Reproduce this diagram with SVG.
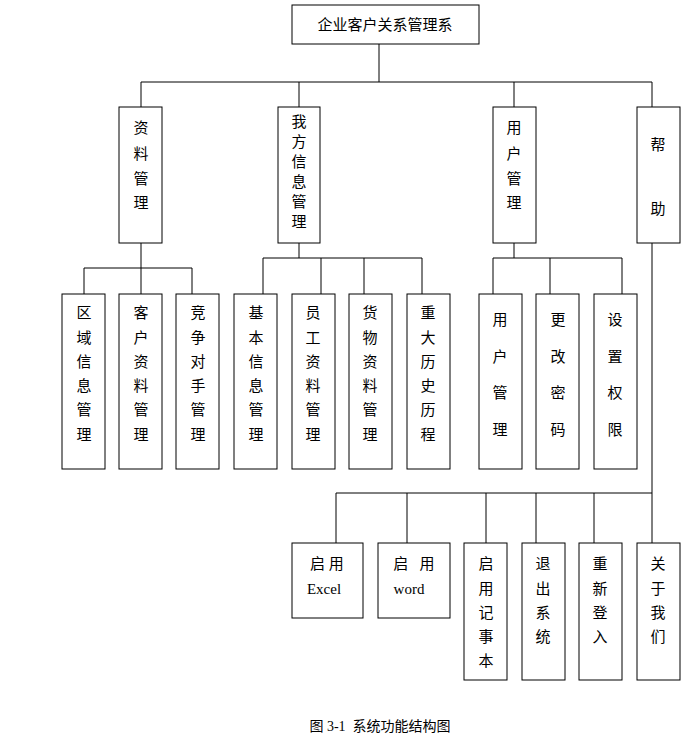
<svg xmlns="http://www.w3.org/2000/svg" width="697" height="744" viewBox="0 0 697 744">
<style>
rect{fill:#fff;stroke:#000;stroke-width:1}
text{font-family:"Liberation Serif","Noto Sans CJK SC",serif;font-size:15px;fill:#000;text-anchor:middle}
.c line{stroke:#000;stroke-width:1}
</style>
<rect x="0" y="0" width="697" height="744" style="stroke:none"/>
<g class="c">
<line x1="379" y1="44" x2="379" y2="82"/>
<line x1="141" y1="82" x2="652" y2="82"/>
<line x1="141" y1="82" x2="141" y2="107"/>
<line x1="299" y1="82" x2="299" y2="107"/>
<line x1="514" y1="82" x2="514" y2="107"/>
<line x1="652" y1="82" x2="652" y2="107"/>
<line x1="141" y1="243" x2="141" y2="268"/>
<line x1="84" y1="268" x2="192" y2="268"/>
<line x1="84" y1="268" x2="84" y2="294"/>
<line x1="141" y1="268" x2="141" y2="294"/>
<line x1="192" y1="268" x2="192" y2="294"/>
<line x1="299" y1="243" x2="299" y2="258"/>
<line x1="263" y1="258" x2="422" y2="258"/>
<line x1="263" y1="258" x2="263" y2="294"/>
<line x1="321" y1="258" x2="321" y2="294"/>
<line x1="364" y1="258" x2="364" y2="294"/>
<line x1="422" y1="258" x2="422" y2="294"/>
<line x1="514" y1="243" x2="514" y2="258"/>
<line x1="493" y1="258" x2="622" y2="258"/>
<line x1="493" y1="258" x2="493" y2="294"/>
<line x1="550" y1="258" x2="550" y2="294"/>
<line x1="622" y1="258" x2="622" y2="294"/>
<line x1="652" y1="243" x2="652" y2="493"/>
<line x1="336" y1="493" x2="652" y2="493"/>
<line x1="336" y1="493" x2="336" y2="543"/>
<line x1="407" y1="493" x2="407" y2="543"/>
<line x1="486" y1="493" x2="486" y2="543"/>
<line x1="536" y1="493" x2="536" y2="543"/>
<line x1="594" y1="493" x2="594" y2="543"/>
<line x1="652" y1="493" x2="652" y2="543"/>
</g>
<g id="root"><rect x="292" y="5" width="187" height="39"/><text x="385" y="30">企业客户关系管理系</text></g>
<g id="n1"><rect x="119" y="107" width="43" height="136"/><text x="141" y="133">资</text><text x="141" y="159">料</text><text x="141" y="184">管</text><text x="141" y="208">理</text></g>
<g id="n2"><rect x="278" y="107" width="42" height="136"/><text x="299" y="127">我</text><text x="299" y="147">方</text><text x="299" y="167">信</text><text x="299" y="187">息</text><text x="299" y="207">管</text><text x="299" y="227">理</text></g>
<g id="n3"><rect x="493" y="107" width="43" height="136"/><text x="514" y="133">用</text><text x="514" y="159">户</text><text x="514" y="184">管</text><text x="514" y="208">理</text></g>
<g id="n4"><rect x="637" y="107" width="43" height="136"/><text x="658" y="150">帮</text><text x="658" y="214">助</text></g>
<g id="n5"><rect x="62" y="294" width="43" height="175"/><text x="84" y="318">区</text><text x="84" y="343">域</text><text x="84" y="367">信</text><text x="84" y="391">息</text><text x="84" y="415">管</text><text x="84" y="440">理</text></g>
<g id="n6"><rect x="119" y="294" width="43" height="175"/><text x="141" y="318">客</text><text x="141" y="343">户</text><text x="141" y="367">资</text><text x="141" y="391">料</text><text x="141" y="415">管</text><text x="141" y="440">理</text></g>
<g id="n7"><rect x="176" y="294" width="43" height="175"/><text x="198" y="318">竞</text><text x="198" y="343">争</text><text x="198" y="367">对</text><text x="198" y="391">手</text><text x="198" y="415">管</text><text x="198" y="440">理</text></g>
<g id="n8"><rect x="234" y="294" width="43" height="175"/><text x="256" y="318">基</text><text x="256" y="343">本</text><text x="256" y="367">信</text><text x="256" y="391">息</text><text x="256" y="415">管</text><text x="256" y="440">理</text></g>
<g id="n9"><rect x="292" y="294" width="43" height="175"/><text x="313" y="318">员</text><text x="313" y="343">工</text><text x="313" y="367">资</text><text x="313" y="391">料</text><text x="313" y="415">管</text><text x="313" y="440">理</text></g>
<g id="n10"><rect x="349" y="294" width="43" height="175"/><text x="370" y="318">货</text><text x="370" y="343">物</text><text x="370" y="367">资</text><text x="370" y="391">料</text><text x="370" y="415">管</text><text x="370" y="440">理</text></g>
<g id="n11"><rect x="407" y="294" width="43" height="175"/><text x="428" y="318">重</text><text x="428" y="343">大</text><text x="428" y="367">历</text><text x="428" y="391">史</text><text x="428" y="415">历</text><text x="428" y="440">程</text></g>
<g id="n12"><rect x="479" y="294" width="43" height="175"/><text x="500" y="325">用</text><text x="500" y="362">户</text><text x="500" y="398">管</text><text x="500" y="435">理</text></g>
<g id="n13"><rect x="536" y="294" width="43" height="175"/><text x="558" y="325">更</text><text x="558" y="362">改</text><text x="558" y="398">密</text><text x="558" y="435">码</text></g>
<g id="n14"><rect x="594" y="294" width="43" height="175"/><text x="615" y="325">设</text><text x="615" y="362">置</text><text x="615" y="398">权</text><text x="615" y="435">限</text></g>
<g id="n15"><rect x="292" y="543" width="71" height="75"/><text x="327" y="569" xml:space="preserve">启 用</text><text x="324" y="594">Excel</text></g>
<g id="n16"><rect x="378" y="543" width="72" height="75"/><text x="414" y="569" xml:space="preserve">启   用</text><text x="409" y="594">word</text></g>
<g id="n17"><rect x="464" y="543" width="43" height="137"/><text x="486" y="569">启</text><text x="486" y="594">用</text><text x="486" y="618">记</text><text x="486" y="642">事</text><text x="486" y="666">本</text></g>
<g id="n18"><rect x="522" y="543" width="43" height="137"/><text x="543" y="569">退</text><text x="543" y="594">出</text><text x="543" y="618">系</text><text x="543" y="642">统</text></g>
<g id="n19"><rect x="579" y="543" width="43" height="137"/><text x="600" y="569">重</text><text x="600" y="594">新</text><text x="600" y="618">登</text><text x="600" y="642">入</text></g>
<g id="n20"><rect x="637" y="543" width="43" height="137"/><text x="658" y="569">关</text><text x="658" y="594">于</text><text x="658" y="618">我</text><text x="658" y="642">们</text></g>
<text x="380" y="731" style="font-size:14px" xml:space="preserve">图 3-1  系统功能结构图</text>
</svg>
